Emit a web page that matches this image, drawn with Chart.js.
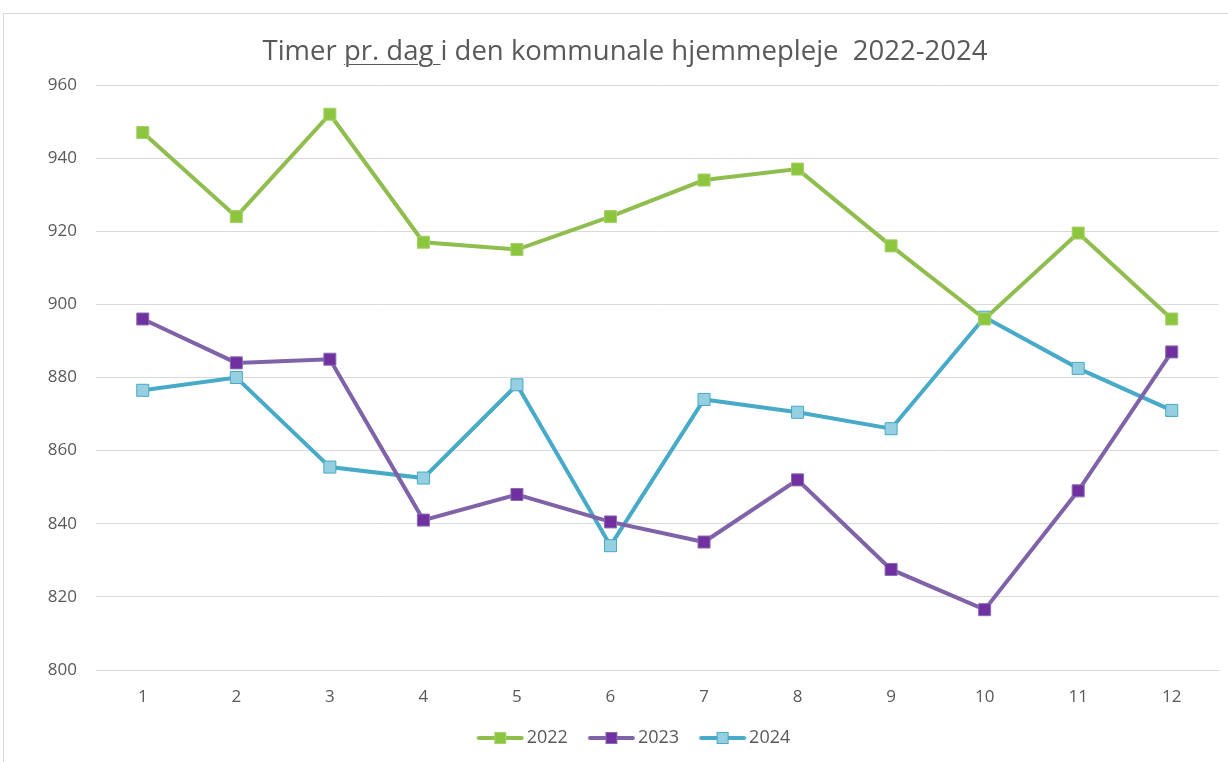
<!DOCTYPE html>
<html>
<head>
<meta charset="utf-8">
<script src="https://cdn.jsdelivr.net/npm/chart.js@4"></script>
<style>
  html, body { margin: 0; padding: 0; background: #fff; }
  #wrap { position: relative; width: 1228px; height: 762px; overflow: hidden; }
  #frame { position: absolute; left: 3px; top: 13px; width: 1300px; height: 800px; border: 1px solid #d9d9d9; box-sizing: border-box; }
  #title { position: absolute; left: 0; top: 31px; width: 1250px; text-align: center;
           font-family: 'Open Sans', sans-serif; font-size: 27.5px; color: #595959; }
  #title u { text-decoration-thickness: 1px; text-underline-offset: 4px; }
  canvas { position: absolute; left: 0; top: 0; }
</style>
</head>
<body>
<div id="wrap">
  <div id="frame"></div>
  <canvas id="chart" width="1228" height="762"></canvas>
  <div id="title">Timer <u>pr. dag </u>i den kommunale hjemmepleje&nbsp; 2022-2024</div>
</div>
<script>
// Måneder og værdier
const months = ['1', '2', '3', '4', '5', '6', '7', '8', '9', '10', '11', '12'];
const hours2022 = [947, 924, 952, 917, 915, 924, 934, 937, 916, 896, 919.5, 896];
const hours2023 = [896, 884, 885, 841, 848, 840.5, 835, 852, 827.5, 816.5, 849, 887];
const hours2024 = [876.5, 880, 855.5, 852.5, 878, 834, 874, 870.5, 866, 896.5, 882.5, 871];
const yTicks = [800, 820, 840, 860, 880, 900, 920, 940, 960];

// Legend-symbol: linje med firkant i midten (venstre del af lærredet er tom luft)
function legendIcon(line, fill, border) {
    const c = document.createElement('canvas');
    c.width = 64;
    c.height = 14;
    const g = c.getContext('2d');
    g.strokeStyle = line;
    g.lineWidth = 4;
    g.lineCap = 'round';
    g.beginPath();
    g.moveTo(18.5, 7);
    g.lineTo(61.5, 7);
    g.stroke();
    g.fillStyle = fill;
    g.fillRect(34, 1, 12, 12);
    g.strokeStyle = border;
    g.lineWidth = 1;
    g.strokeRect(34.5, 1.5, 11, 11);
    return c;
}

function series(label, data, line, fill, border) {
    return {
        label: label,
        data: data,
        borderColor: line,
        borderWidth: 4,
        pointStyle: 'rect',
        pointRadius: 8.5,
        pointHoverRadius: 8.5,
        pointBackgroundColor: fill,
        pointBorderColor: border,
        pointBorderWidth: 1,
        tension: 0,
        fill: false,
        icon: legendIcon(line, fill, border)
    };
}

// Flyt legenden lidt, så den står som i originalen
const legendShift = {
    id: 'legendShift',
    afterLayout: function(chart) {
        const lg = chart.legend;
        lg.left += 19;
        lg.right += 19;
        lg.top += 4;
        lg.bottom += 4;
    }
};

const ctx = document.getElementById('chart').getContext('2d');
new Chart(ctx, {
    type: 'line',
    data: {
        labels: months,
        datasets: [
            series('2022', hours2022, '#8fbe4e', '#8cc63f', '#a5d36a'),
            series('2023', hours2023, '#7f62a8', '#7030a0', '#8a6cb4'),
            series('2024', hours2024, '#46aac8', '#95cfe0', '#46aac8')
        ]
    },
    plugins: [legendShift],
    options: {
        responsive: false,
        animation: false,
        layout: {
            padding: { top: 85, right: 9, bottom: 9, left: 0 }
        },
        plugins: {
            title: { display: false },
            tooltip: { enabled: false },
            legend: {
                position: 'bottom',
                labels: {
                    usePointStyle: true,
                    pointStyleWidth: 51,
                    color: '#595959',
                    padding: 10,
                    font: { family: 'Open Sans', size: 18 },
                    generateLabels: function(chart) {
                        return chart.data.datasets.map((ds, i) => ({
                            text: ds.label,
                            pointStyle: ds.icon,
                            fontColor: '#595959',
                            hidden: false,
                            datasetIndex: i,
                            lineWidth: 0
                        }));
                    }
                }
            }
        },
        scales: {
            x: {
                offset: true,
                grid: { display: false, drawTicks: false },
                border: { display: true, color: '#d9d9d9', width: 1 },
                ticks: {
                    color: '#595959',
                    padding: 17,
                    font: { family: 'Open Sans', size: 17 }
                },
                afterFit: function(scale) { scale.height = 45; }
            },
            y: {
                min: 800,
                max: 960,
                afterBuildTicks: function(scale) {
                    scale.ticks = yTicks.map(v => ({ value: v }));
                },
                grid: { color: '#d9d9d9', lineWidth: 1, drawTicks: false },
                border: { display: false },
                ticks: {
                    color: '#595959',
                    padding: 19,
                    font: { family: 'Open Sans', size: 17 }
                },
                afterFit: function(scale) { scale.width = 96; }
            }
        }
    }
});
</script>
</body>
</html>
